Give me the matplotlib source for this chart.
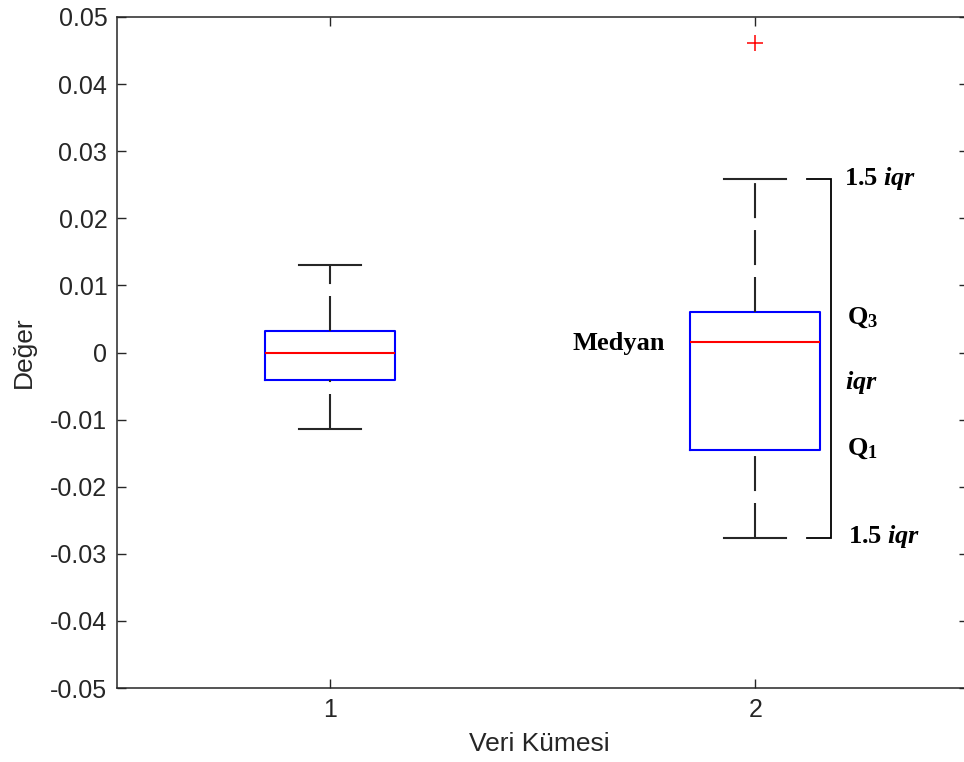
import matplotlib
matplotlib.use("Agg")
import matplotlib.pyplot as plt

# ---- data ----
positions = [1, 2]
xtick_labels = ["1", "2"]
q1 = [-0.0041, -0.0146]
median = [0.0000, 0.0015]
q3 = [0.0032, 0.0061]
whislo = [-0.0114, -0.0277]
whishi = [0.0131, 0.0259]
fliers = [[], [0.0461]]
ytick_values = [0.05, 0.04, 0.03, 0.02, 0.01, 0, -0.01, -0.02, -0.03, -0.04, -0.05]
ytick_labels = ["0.05", "0.04", "0.03", "0.02", "0.01", "0", "-0.01", "-0.02", "-0.03", "-0.04", "-0.05"]

plt.rcParams['lines.scale_dashes'] = False
plt.rcParams['axes.unicode_minus'] = False
plt.rcParams['mathtext.fontset'] = 'custom'
plt.rcParams['mathtext.rm'] = 'Liberation Serif'
plt.rcParams['mathtext.bf'] = 'Liberation Serif:bold'
plt.rcParams['mathtext.it'] = 'Liberation Serif:italic'
plt.rcParams['mathtext.bfit'] = 'Liberation Serif:italic:bold'

fig = plt.figure(figsize=(9.64, 7.62), dpi=100)
W, H = 964, 762
ax = fig.add_axes([117 / W, (H - 688) / H, (968 - 117) / W, (688 - 17) / H])

stats = []
for i in range(len(positions)):
    stats.append(dict(med=median[i], q1=q1[i], q3=q3[i],
                      whislo=whislo[i], whishi=whishi[i], fliers=fliers[i]))

lw = 1.5
res = ax.bxp(stats, positions=positions, widths=0.305, capwidths=0.146,
             boxprops=dict(color='#0000FF', linewidth=lw),
             medianprops=dict(color='#FF0000', linewidth=lw),
             whiskerprops=dict(color='#262626', linewidth=lw, linestyle=(0, (25.2, 8.6))),
             capprops=dict(color='#262626', linewidth=lw),
             flierprops=dict(marker='+', markeredgecolor='#FF0000', markersize=12,
                             markeredgewidth=1.1, linestyle='none'))
# draw whiskers from lower to higher value (dash phase like MATLAB)
for w in res['whiskers']:
    x, y = w.get_data()
    if y[1] < y[0]:
        w.set_data(list(x)[::-1], list(y)[::-1])

ax.set_xlim(0.5, 2.5)
ax.set_ylim(-0.05, 0.05)
ax.set_xticks(positions)
ax.set_xticklabels(xtick_labels)
ax.set_yticks(ytick_values)
ax.set_yticklabels(ytick_labels)

tickfont = dict(family='Liberation Sans', size=18)
for lab in ax.get_xticklabels() + ax.get_yticklabels():
    lab.set_fontfamily('Liberation Sans')
    lab.set_fontsize(18)
    lab.set_color('#262626')

ax.tick_params(direction='in', length=6.5, width=1.0, top=True, right=True,
               color='#262626', pad=7)
for s in ax.spines.values():
    s.set_color('#262626')
    s.set_linewidth(1.1)

ax.set_xlabel('Veri Kümesi', family='Liberation Sans', fontsize=19, color='#262626', va='center')
ax.xaxis.set_label_coords(0.496, -0.083)
ax.set_ylabel('Değer', family='Liberation Sans', fontsize=19, color='#262626', va='center')
ax.yaxis.set_label_coords(-0.110, 0.5)

# ---- annotation bracket for second box ----
bx = 2.178
bx0 = 2.122
ax.plot([bx0, bx, bx, bx0], [whishi[1], whishi[1], whislo[1], whislo[1]],
        color='black', linewidth=1.3, solid_joinstyle='miter', clip_on=False)

afs = 19
ax.text(2.209, whishi[1], r'$\mathbf{1.5}\ \mathbfit{iqr}$', fontsize=afs, va='center', ha='left')
ax.text(2.218, whislo[1] + 0.0003, r'$\mathbf{1.5}\ \mathbfit{iqr}$', fontsize=afs, va='center', ha='left')
ax.text(2.215, 0.0053, r'$\mathbf{Q_3}$', fontsize=afs, va='center', ha='left')
ax.text(2.211, -0.0045, r'$\mathbfit{iqr}$', fontsize=afs, va='center', ha='left')
ax.text(2.215, -0.0142, r'$\mathbf{Q_1}$', fontsize=afs, va='center', ha='left')
ax.text(1.789, 0.0014, 'Medyan', family='Liberation Serif', fontweight='bold',
        fontsize=afs, va='center', ha='right')

fig.savefig('out.png', dpi=100)
